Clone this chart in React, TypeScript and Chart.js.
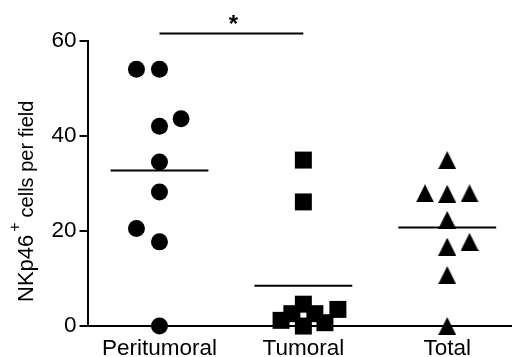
import { useEffect, useRef } from "react";
import { Chart, registerables } from "chart.js";

Chart.register(...registerables);

// ---- data ----
const categories = ["Peritumoral", "Tumoral", "Total"];
const peritumoralValues = [54, 54, 43.6, 42, 34.5, 28.2, 20.5, 17.7, 0];
const peritumoralJitter = [-0.16, 0, 0.15, 0, 0, 0, -0.16, 0, 0];
const tumoralValues = [34.9, 26.1, 4.6, 2.6, 1.2, 0, 2.6, 0.7, 3.5];
const tumoralJitter = [0, 0, 0, -0.08, -0.155, 0, 0.08, 0.15, 0.24];
const totalValues = [34.9, 27.9, 27.8, 27.9, 22.3, 16.7, 17.7, 10.7, 0];
const totalJitter = [0, -0.155, 0, 0.155, 0, 0, 0.155, 0, 0];
const meanValues = [32.7, 8.5, 20.7];
const yTickValues = [0, 20, 40, 60];
const sigFrom = 0;
const sigTo = 1;
const sigLevel = 61.5;
const sigLabel = "*";
const yTitleMain = "NKp46";
const yTitleSup = "+";
const yTitleRest = "cells per field";

const FONT = "'Liberation Sans', Arial, Helvetica, sans-serif";
const MEAN_HALF = 0.34;

function makeTriangle(): HTMLCanvasElement {
  const c = document.createElement("canvas");
  c.width = 18;
  c.height = 18;
  const g = c.getContext("2d")!;
  g.fillStyle = "#000";
  g.beginPath();
  g.moveTo(9, 0);
  g.lineTo(18, 18);
  g.lineTo(0, 18);
  g.closePath();
  g.fill();
  return c;
}

const toPoints = (vals: number[], jit: number[], idx: number) =>
  vals.map((v, i) => ({ x: idx + jit[i], y: v }));

const annotationPlugin = {
  id: "customAnnotations",
  afterDraw(chart: any) {
    const ctx = chart.ctx as CanvasRenderingContext2D;
    const xs = chart.scales.x;
    const ys = chart.scales.y;
    // significance bracket
    const x1 = xs.getPixelForValue(sigFrom);
    const x2 = xs.getPixelForValue(sigTo);
    const yLine = ys.getPixelForValue(sigLevel);
    ctx.save();
    ctx.strokeStyle = "#000";
    ctx.lineWidth = 2;
    ctx.beginPath();
    ctx.moveTo(x1, yLine);
    ctx.lineTo(x2, yLine);
    ctx.stroke();
    ctx.fillStyle = "#000";
    ctx.font = `bold 24px ${FONT}`;
    ctx.textAlign = "center";
    ctx.textBaseline = "alphabetic";
    ctx.fillText(sigLabel, (x1 + x2) / 2 + 2, yLine - 2);
    ctx.restore();

    // y-axis title with superscript
    ctx.save();
    ctx.translate(33, 302);
    ctx.rotate(-Math.PI / 2);
    ctx.fillStyle = "#000";
    ctx.textAlign = "left";
    ctx.textBaseline = "alphabetic";
    let x = 0;
    ctx.font = `22px ${FONT}`;
    ctx.fillText(yTitleMain, x, 0);
    x += ctx.measureText(yTitleMain).width + 3;
    ctx.font = `16px ${FONT}`;
    ctx.fillText(yTitleSup, x, -13);
    x += ctx.measureText(yTitleSup).width + 5;
    ctx.font = `20px ${FONT}`;
    ctx.fillText(yTitleRest, x, 0);
    ctx.restore();
  },
};

export default function App() {
  const ref = useRef<HTMLCanvasElement | null>(null);

  useEffect(() => {
    if (!ref.current) return;
    const tri = makeTriangle();
    const meanLine = (i: number) => ({
      type: "scatter" as const,
      data: [
        { x: i - MEAN_HALF, y: meanValues[i] },
        { x: i + MEAN_HALF, y: meanValues[i] },
      ],
      showLine: true,
      borderColor: "#000",
      borderWidth: 2,
      pointRadius: 0,
      clip: false as any,
    });
    const chart = new Chart(ref.current, {
      type: "scatter",
      data: {
        datasets: [
          meanLine(0),
          meanLine(1),
          meanLine(2),
          {
            data: toPoints(peritumoralValues, peritumoralJitter, 0),
            pointStyle: "circle",
            pointRadius: 8.5,
            borderWidth: 0,
            backgroundColor: "#000",
            borderColor: "#000",
            clip: false as any,
          },
          {
            data: toPoints(tumoralValues, tumoralJitter, 1),
            pointStyle: "rect",
            pointRadius: 12,
            borderWidth: 0,
            backgroundColor: "#000",
            borderColor: "#000",
            clip: false as any,
          },
          {
            data: toPoints(totalValues, totalJitter, 2),
            pointStyle: tri as any,
            pointRadius: 9,
            borderWidth: 0,
            backgroundColor: "#000",
            borderColor: "#000",
            clip: false as any,
          },
        ],
      },
      options: {
        responsive: false,
        animation: false,
        devicePixelRatio: 1,
        layout: { autoPadding: false, padding: { left: 48.5, top: 40.7, right: 0, bottom: -14 } },
        plugins: {
          legend: { display: false },
          tooltip: { enabled: false },
        },
        scales: {
          x: {
            type: "linear",
            min: -0.5,
            max: 2.45,
            afterBuildTicks: (s: any) => {
              s.ticks = categories.map((_, i) => ({ value: i }));
            },
            grid: { display: false, drawTicks: false },
            border: { display: true, color: "#000", width: 2 },
            ticks: {
              color: "#000",
              padding: 15.5,
              font: { family: FONT, size: 22.5, lineHeight: 0.62 },
              callback: (v: any) => categories[Math.round(Number(v))] ?? "",
              maxRotation: 0,
              autoSkip: false,
            },
          },
          y: {
            type: "linear",
            min: 0,
            max: 60,
            afterBuildTicks: (s: any) => {
              s.ticks = yTickValues.map((v) => ({ value: v }));
            },
            grid: {
              display: true,
              drawOnChartArea: false,
              drawTicks: true,
              tickLength: 8,
              color: "#000",
              lineWidth: 2,
            },
            border: { display: true, color: "#000", width: 2 },
            ticks: {
              color: "#000",
              padding: 3,
              font: { family: FONT, size: 22.5 },
            },
          },
        },
      },
      plugins: [annotationPlugin],
    });
    return () => chart.destroy();
  }, []);

  return (
    <div style={{ position: "absolute", left: 0, top: 0, width: 512, height: 357 }}>
      <canvas ref={ref} width={512} height={357} />
    </div>
  );
}
